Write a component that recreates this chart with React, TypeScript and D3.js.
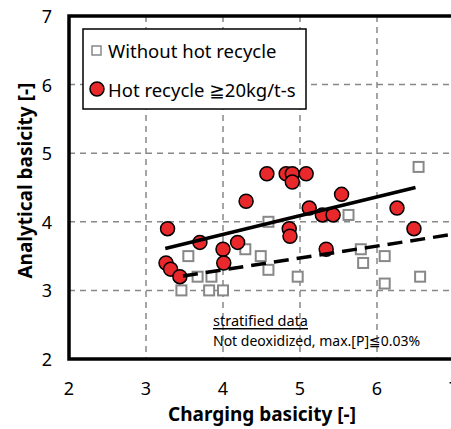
import React from 'react';
import * as d3 from 'd3';

// charging basicity (x) / analytical basicity (y)
const hotX = [3.28, 3.26, 3.32, 3.44, 3.70, 4.00, 4.01, 4.19, 4.30, 4.57, 4.82, 4.90, 4.90, 4.86, 4.87, 5.08, 5.12, 5.29, 5.43, 5.54, 5.34, 6.26, 6.48];
const hotY = [3.90, 3.40, 3.31, 3.20, 3.70, 3.60, 3.40, 3.70, 4.30, 4.70, 4.70, 4.70, 4.58, 3.90, 3.79, 4.70, 4.20, 4.10, 4.10, 4.40, 3.60, 4.20, 3.90];

const coldX = [3.55, 3.46, 3.67, 3.85, 3.82, 4.00, 4.29, 4.49, 4.59, 4.59, 4.97, 5.63, 5.79, 5.82, 6.10, 6.10, 6.56, 6.54];
const coldY = [3.50, 3.00, 3.20, 3.20, 3.00, 3.00, 3.60, 3.50, 3.30, 4.00, 3.20, 4.10, 3.60, 3.40, 3.50, 3.10, 3.20, 4.80];

// trend lines, endpoints
const hotTrend = [[3.25, 3.61], [6.5, 4.5]];
const coldTrend = [[3.48, 3.21], [7.0, 3.82]];

const xTicks = [2, 3, 4, 5, 6, 7];
const yTicks = [2, 3, 4, 5, 6, 7];

const FONT = "'Noto Sans', 'DejaVu Sans', sans-serif";

const App: React.FC = () => {
  const width = 451;
  const height = 429;

  const x = d3.scaleLinear().domain([2, 7]).range([69, 454]);
  const y = d3.scaleLinear().domain([2, 7]).range([359, 16]);

  const line = d3.line<number[]>()
    .x(d => x(d[0]))
    .y(d => y(d[1]));

  const sq = 10;

  return (
    <svg width={width} height={height} style={{ position: 'absolute', left: 0, top: 0, fontFamily: FONT }}>
      <rect width={width} height={height} fill="white" />

      {/* grid */}
      {xTicks.slice(1, -1).map(t => (
        <line key={'gx' + t} x1={x(t)} x2={x(t)} y1={y(7)} y2={y(2)}
          stroke="#888" strokeWidth={1.5} strokeDasharray="6,5" />
      ))}
      {yTicks.slice(1, -1).map(t => (
        <line key={'gy' + t} x1={x(2)} x2={x(7)} y1={y(t)} y2={y(t)}
          stroke="#888" strokeWidth={1.5} strokeDasharray="6,5" />
      ))}

      {/* frame */}
      <rect x={x(2)} y={y(7)} width={x(7) - x(2)} height={y(2) - y(7)}
        fill="none" stroke="black" strokeWidth={3.5} />

      {/* tick labels */}
      {xTicks.map(t => (
        <text key={'tx' + t} x={x(t)} y={388} textAnchor="middle" dominantBaseline="central"
          fontSize={18}>{t}</text>
      ))}
      {yTicks.map(t => (
        <text key={'ty' + t} x={52} y={y(t)} textAnchor="end" dominantBaseline="central"
          fontSize={18}>{t}</text>
      ))}

      {/* axis titles */}
      <text x={262} y={414} textAnchor="middle" dominantBaseline="central" fontSize={19} fontWeight="bold">
        Charging basicity [-]
      </text>
      <text transform={`translate(25,${y(4.6)}) rotate(-90)`} textAnchor="middle" dominantBaseline="central"
        fontSize={19} fontWeight="bold">
        Analytical basicity [-]
      </text>

      {/* squares: without hot recycle */}
      {coldX.map((v, i) => (
        <rect key={'c' + i} x={x(v) - sq / 2} y={y(coldY[i]) - sq / 2} width={sq} height={sq}
          fill="white" stroke="#888" strokeWidth={2} />
      ))}

      {/* circles: hot recycle */}
      {hotX.map((v, i) => (
        <circle key={'h' + i} cx={x(v)} cy={y(hotY[i])} r={7}
          fill="#e8282a" stroke="black" strokeWidth={1.5} />
      ))}

      {/* trend lines */}
      <path d={line(hotTrend) || ''} fill="none" stroke="black" strokeWidth={3.5} />
      <path d={line(coldTrend) || ''} fill="none" stroke="black" strokeWidth={3.5} strokeDasharray="15,8" />

      {/* legend */}
      <rect x={83} y={29} width={223} height={80} fill="white" stroke="black" strokeWidth={1.5} />
      <rect x={92} y={46} width={9} height={9} fill="white" stroke="#888" strokeWidth={1.5} />
      <text x={108} y={50} dominantBaseline="central" fontSize={18.5}>Without hot recycle</text>
      <circle cx={97} cy={89} r={7} fill="#e8282a" stroke="black" strokeWidth={1.5} />
      <text x={108} y={89} dominantBaseline="central" fontSize={18.5}>Hot recycle ≧20kg/t-s</text>

      {/* annotation */}
      <text x={213} y={320} dominantBaseline="central" fontSize={14.5} textDecoration="underline">stratified data</text>
      <text x={213} y={340} dominantBaseline="central" fontSize={14}>Not deoxidized, max.[P]≦0.03%</text>
    </svg>
  );
};

export default App;
